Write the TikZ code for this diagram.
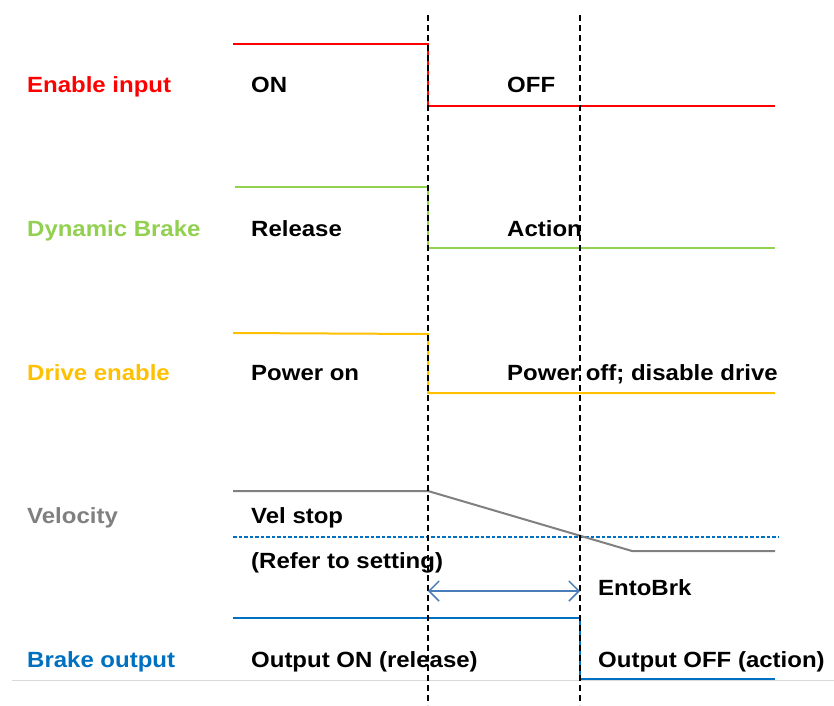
\documentclass[tikz,border=0pt]{standalone}
\usepackage{fontspec}
\setmainfont{Liberation Sans}[FakeStretch=1.09]
\usetikzlibrary{arrows.meta}
\definecolor{sigred}{HTML}{FF0000}
\definecolor{siggreen}{HTML}{92D050}
\definecolor{sigyellow}{HTML}{FFC000}
\definecolor{siggray}{HTML}{808080}
\definecolor{sigblue}{HTML}{0070C0}
\definecolor{arrblue}{HTML}{4A7EBB}
\definecolor{rulegray}{HTML}{D9D9D9}
\tikzset{
  txt/.style={anchor=base west, inner sep=0pt, font=\fontsize{22}{24}\selectfont\bfseries},
  sig/.style={line width=2pt},
  guide/.style={black, line width=1.5pt, dash pattern=on 6pt off 4pt},
}
\begin{document}
\begin{tikzpicture}[x=1pt,y=-1pt]
\useasboundingbox (0,0) rectangle (834,705);
\fill[white] (0,0) rectangle (834,705);
% baseline rule
\draw[rulegray, line width=1pt] (12,680) -- (834,680);
% Enable input
\draw[sig, sigred] (233,44) -- (428,44) -- (428,106) -- (775,106);
\node[txt, text=sigred] (lEn) at (27,92) {Enable input};
\node[txt] (tOn) at (251,92) {ON};
\node[txt] (tOff) at (507,92) {OFF};
% Dynamic brake
\draw[sig, siggreen] (235,187) -- (428,187) -- (428,248) -- (775,248);
\node[txt, text=siggreen] (lDb) at (27,236) {Dynamic Brake};
\node[txt] (tRel) at (251,236) {Release};
\node[txt] (tAct) at (507,236) {Action};
% Drive enable
\draw[sig, sigyellow] (233,333) -- (428,334) -- (428,393) -- (775,393);
\node[txt, text=sigyellow] (lDe) at (27,380) {Drive enable};
\node[txt] (tPon) at (251,380) {Power on};
\node[txt] (tPoff) at (507,380) {Power off; disable drive};
% Velocity
\draw[sigblue, line width=1.5pt, dash pattern=on 3.5pt off 2pt] (233,537) -- (778,537);
\draw[sig, siggray] (233,491) -- (428,491) -- (632,551) -- (775,551);
\node[txt, text=siggray] (lVel) at (27,523) {Velocity};
\node[txt] (tVs) at (251,523) {Vel stop};
\node[txt] (tRef) at (251,568) {(Refer to setting)};
% Brake output
\draw[sig, sigblue] (233,618) -- (580,618) -- (580,679) -- (775,679);
\node[txt, text=sigblue] (lBo) at (27,667) {Brake output};
\node[txt] (tOon) at (251,667) {Output ON (release)};
\node[txt] (tOoff) at (598,667) {Output OFF (action)};
% guides
\draw[guide] (428,15) -- (428,705);
\draw[guide] (580,15) -- (580,705);
% EntoBrk arrow
\coordinate (aL) at (428,591);
\coordinate (aR) at (580,591);
\draw[arrblue, line width=1.5pt, {Straight Barb[length=10pt,width=20pt]}-{Straight Barb[length=10pt,width=20pt]}] (aL) -- (aR);
\node[txt] (tEb) at (598,595) {EntoBrk};
\end{tikzpicture}
\end{document}
